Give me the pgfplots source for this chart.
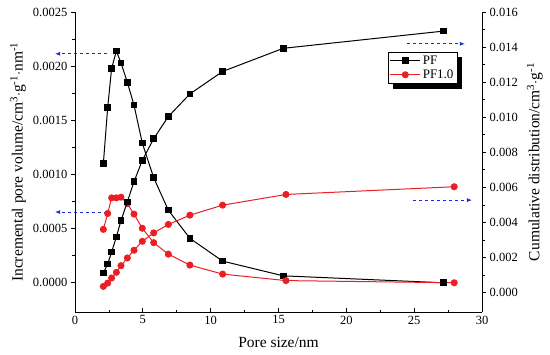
\documentclass[border=0pt]{standalone}
\usepackage{pgfplots}
\pgfplotsset{compat=1.18}
\usepackage{fontspec}
\setmainfont{Liberation Serif}
\usetikzlibrary{arrows.meta,calc,backgrounds}
\definecolor{myred}{RGB}{235,30,35}
\definecolor{myblue}{RGB}{30,40,220}
\begin{document}
\begin{tikzpicture}
\pgfplotsset{
  every axis/.append style={
    scale only axis, width=407pt, height=300pt,
    xmin=0, xmax=30,
    line width=0.8pt,
    tick style={line width=0.8pt, black},
    major tick length=4pt, minor tick length=2.5pt,
    tick label style={font=\fontsize{12.5}{14}\selectfont},
    label style={font=\fontsize{15.5}{17}\selectfont},
    /pgf/number format/assume math mode=true,
  }
}
\begin{axis}[
  name=ax,
  axis y line*=left,
  axis x line*=bottom,
  ymin=-0.00027, ymax=0.0025,
  ytick={0,0.0005,0.001,0.0015,0.002,0.0025},
  minor y tick num=1,
  xtick={0,5,10,15,20,25,30},
  minor x tick num=1,
  xtick align=inside,
  ytick align=outside,
  scaled y ticks=false,
  yticklabel style={/pgf/number format/.cd, fixed, fixed zerofill, precision=4},
  xlabel={Pore size/nm},
  xlabel style={at={(axis description cs:0.5,-0.1)}, anchor=center},
  ylabel={Incremental pore volume/cm\textsuperscript{3}$\cdot$g\textsuperscript{-1}$\cdot$nm\textsuperscript{-1}},
  ylabel style={at={(axis description cs:-0.14,0.5)}, anchor=center},
  clip=false,
  legend cell align=left,
  legend image code/.code={\draw[#1, mark repeat=2, mark phase=2] plot coordinates {(0pt,0pt) (15pt,0pt) (30pt,0pt)};},
  legend style={name=leg, at={(0.769,0.867)}, anchor=north west, draw=black, line width=0.6pt, fill=white,
    font=\fontsize{13}{14}\selectfont,
    inner sep=1.5pt, row sep=0pt},
]
\addplot[black, line width=1pt, mark=square*, mark size=2.8pt] coordinates {
(2.09,0.00110) (2.41,0.00162) (2.70,0.00198) (3.05,0.00214) (3.39,0.00203)
(3.86,0.00185) (4.35,0.00164) (4.96,0.00129) (5.80,0.00097) (6.88,0.00067)
(8.47,0.00041) (10.88,0.00020) (15.35,0.000064) (27.14,0.0000)
};
\addlegendentry{PF}
\addplot[myred, line width=1pt, mark=*, mark size=3pt] coordinates {
(2.09,0.000493) (2.41,0.00064) (2.70,0.000784) (3.05,0.000784) (3.39,0.00079)
(3.86,0.00073) (4.35,0.000634) (4.96,0.000503) (5.80,0.00037) (6.88,0.000264)
(8.47,0.000163) (10.88,0.00008) (15.55,0.00002) (27.95,0.0000)
};
\addlegendentry{PF1.0}
\draw[myblue, dashed, line width=0.8pt, -{Latex[length=5pt,width=4pt]}] (axis cs:2.36,0.002114) -- (axis cs:-1.47,0.002114);
\draw[myblue, dashed, line width=0.8pt, -{Latex[length=5pt,width=4pt]}] (axis cs:2.36,0.000653) -- (axis cs:-1.47,0.000653);
\draw[myblue, dashed, line width=0.8pt, -{Latex[length=5pt,width=4pt]}] (axis cs:24.47,0.002206) -- (axis cs:28.74,0.002206);
\draw[myblue, dashed, line width=0.8pt, -{Latex[length=5pt,width=4pt]}] (axis cs:24.9,0.000763) -- (axis cs:29.26,0.000763);
\end{axis}
\begin{axis}[
  axis y line*=right,
  axis x line=none,
  ymin=-0.0011, ymax=0.016,
  ytick={0,0.002,0.004,0.006,0.008,0.010,0.012,0.014,0.016},
  minor y tick num=1,
  ytick align=outside,
  scaled y ticks=false,
  yticklabel style={/pgf/number format/.cd, fixed, fixed zerofill, precision=3},
  ylabel={Cumulative distribution/cm\textsuperscript{3}$\cdot$g\textsuperscript{-1}},
  ylabel style={at={(axis description cs:1.13,0.5)}, anchor=center},
]
\addplot[black, line width=1pt, mark=square*, mark size=2.8pt] coordinates {
(2.09,0.00113) (2.41,0.00164) (2.70,0.00232) (3.05,0.00318) (3.39,0.00411)
(3.86,0.00518) (4.35,0.00633) (4.96,0.00754) (5.80,0.00878) (6.88,0.01004)
(8.47,0.01133) (10.88,0.01261) (15.35,0.01393) (27.14,0.01491)
};
\addplot[myred, line width=1pt, mark=*, mark size=3pt] coordinates {
(2.09,0.00036) (2.41,0.00055) (2.70,0.00084) (3.05,0.00116) (3.39,0.00154)
(3.86,0.00198) (4.35,0.00242) (4.96,0.00293) (5.80,0.00341) (6.88,0.00389)
(8.47,0.00442) (10.88,0.00499) (15.55,0.0056) (27.95,0.00604)
};
\end{axis}
\begin{scope}[on background layer]
\fill[black] ($(leg.south west)+(5pt,-5pt)$) rectangle ($(leg.north east)+(5pt,-5pt)$);
\end{scope}
\pgfresetboundingbox
\path[use as bounding box] ($(ax.south west)+(-75pt,-42pt)$) rectangle ($(ax.north east)+(68pt,12pt)$);
\end{tikzpicture}
\end{document}
